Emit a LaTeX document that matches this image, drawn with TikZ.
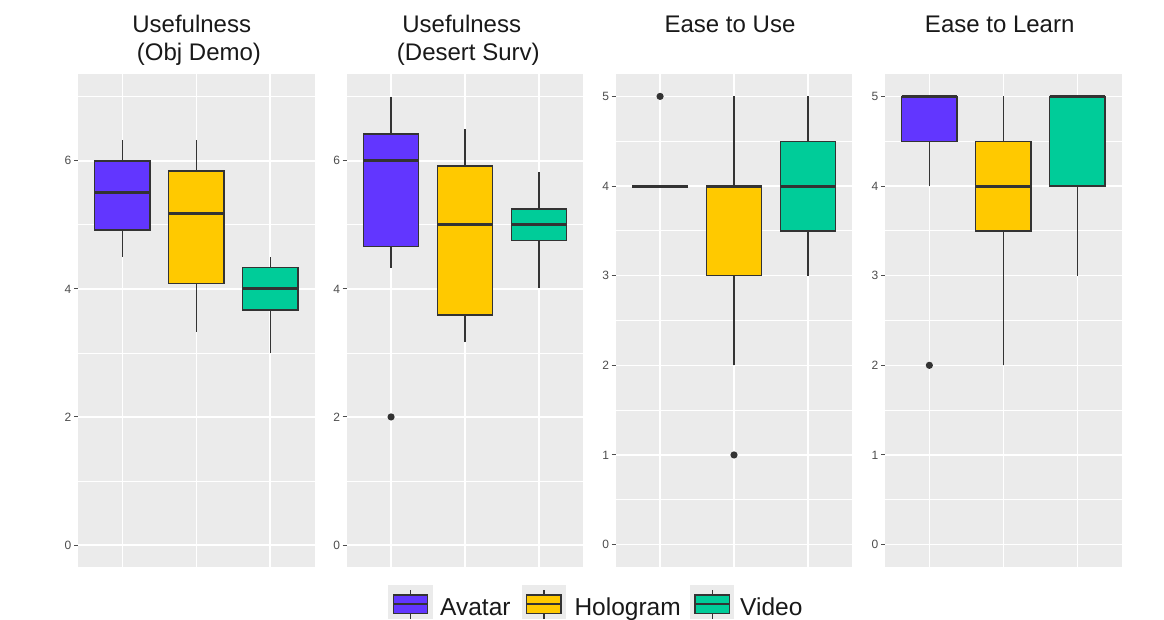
\documentclass[tikz,border=0pt]{standalone}
\usepackage{fontspec}
\setmainfont{Liberation Sans}
\definecolor{avat}{RGB}{98,54,255}
\definecolor{holo}{RGB}{255,201,0}
\definecolor{vid}{RGB}{0,204,153}
\definecolor{pbg}{RGB}{235,235,235}
\definecolor{dk}{RGB}{51,51,51}
\definecolor{axg}{RGB}{77,77,77}
\tikzset{
 panelbg/.style={fill=pbg},
 majgrid/.style={draw=white, line width=1.5pt},
 mingrid/.style={draw=white, line width=0.75pt},
 tickst/.style={draw=axg, line width=1pt},
 ticklab/.style={anchor=east, inner sep=0pt, text=axg, font=\fontsize{12}{12}\selectfont},
 whisk/.style={draw=dk, line width=1.4pt},
 boxst/.style={draw=dk, line width=1.4pt},
 medst/.style={draw=dk, line width=3pt},
 outl/.style={fill=dk},
 ttl/.style={anchor=base, inner sep=0pt, font=\fontsize{24}{28}\selectfont, text=black!90},
 legtxt/.style={anchor=base west, inner sep=0pt, font=\fontsize{24.5}{28}\selectfont, text=black!90},
}
% box plot: #1 x, #2 low whisker, #3 Q1, #4 median, #5 Q3, #6 high whisker, #7 colour
\newcommand\bxp[7]{%
 \draw[whisk] (#1,#2) -- (#1,#3);
 \draw[whisk] (#1,#5) -- (#1,#6);
 \filldraw[boxst, fill=#7] (#1-27.7,#3) rectangle (#1+27.7,#5);
 \draw[medst] (#1-27.7,#4) -- (#1+27.7,#4);
}
% panel: #1 bottom, #2 top, #3 minor, #4 major, #5 id
\newcommand\panelbase[5]{%
 \fill[panelbg] (0,#1) rectangle (236.6,#2);
 \foreach \v in {#3} \draw[mingrid] (0,\v) -- (236.6,\v);
 \foreach \v in {#4} {\draw[majgrid] (0,\v) -- (236.6,\v);
   \draw[tickst] (-4,\v) -- (0,\v);
   \node[ticklab] (#5t\v) at (-6.5,\v) {\v};}
 \foreach \c in {44.36,118.3,192.24} \draw[majgrid] (\c,#1) -- (\c,#2);
}
\newcommand\legkey[2]{%
 \fill[pbg] (#1,0) rectangle (#1+44.4,34);
 \draw[whisk] (#1+22.2,0) -- (#1+22.2,29);
 \filldraw[boxst, fill=#2] (#1+5,5.7) rectangle (#1+39.4,24);
 \draw[medst, line width=1.8pt] (#1+5,14.8) -- (#1+39.4,14.8);
}
\begin{document}
\begin{tikzpicture}[x=1pt,y=1pt]
\useasboundingbox (0,0) rectangle (1164,619);
\fill[white] (0,0) rectangle (1164,619);

% Panel 1
\begin{scope}[shift={(78pt,74pt)}, y=64.03pt]
 \panelbase{-0.35}{7.35}{1,3,5,7}{0,2,4,6}{pa}
 \bxp{44.36}{4.5}{4.92}{5.5}{6.0}{6.33}{avat}
 \bxp{118.3}{3.33}{4.08}{5.17}{5.84}{6.33}{holo}
 \bxp{192.24}{3.0}{3.67}{4.0}{4.33}{4.5}{vid}
\end{scope}

% Panel 2
\begin{scope}[shift={(346.7pt,74pt)}, y=64.03pt]
 \panelbase{-0.35}{7.35}{1,3,5,7}{0,2,4,6}{pb}
 \bxp{44.36}{4.33}{4.66}{6.0}{6.42}{7.0}{avat}
 \fill[outl] (44.36,2) circle (3.6pt);
 \bxp{118.3}{3.17}{3.59}{5.0}{5.92}{6.5}{holo}
 \bxp{192.24}{4.02}{4.76}{5.0}{5.25}{5.83}{vid}
\end{scope}

% Panel 3
\begin{scope}[shift={(615.7pt,74.4pt)}, y=89.64pt]
 \panelbase{-0.25}{5.25}{0.5,1.5,2.5,3.5,4.5}{0,1,2,3,4,5}{pc}
 \bxp{44.36}{4}{4}{4}{4}{4}{avat}
 \fill[outl] (44.36,5) circle (3.6pt);
 \bxp{118.3}{2}{3}{4}{4}{5}{holo}
 \fill[outl] (118.3,1) circle (3.6pt);
 \bxp{192.24}{3}{3.5}{4}{4.5}{5}{vid}
\end{scope}

% Panel 4
\begin{scope}[shift={(885pt,74.4pt)}, y=89.64pt]
 \panelbase{-0.25}{5.25}{0.5,1.5,2.5,3.5,4.5}{0,1,2,3,4,5}{pd}
 \bxp{44.36}{4}{4.5}{5}{5}{5}{avat}
 \fill[outl] (44.36,2) circle (3.6pt);
 \bxp{118.3}{2}{3.5}{4}{4.5}{5}{holo}
 \bxp{192.24}{3}{4}{5}{5}{5}{vid}
\end{scope}

% Titles
\node[ttl] (t1a) at (191.7,586) {Usefulness};
\node[ttl] (t1b) at (199,558) {(Obj Demo)};
\node[ttl] (t2a) at (461.7,586) {Usefulness};
\node[ttl] (t2b) at (468.3,558) {(Desert Surv)};
\node[ttl] (t3) at (730,586) {Ease to Use};
\node[ttl] (t4) at (999.7,586) {Ease to Learn};

% Legend
\legkey{388.3}{avat}
\node[legtxt] (la) at (440,4) {Avatar};
\legkey{521.7}{holo}
\node[legtxt] (lh) at (574.3,4) {Hologram};
\legkey{690}{vid}
\node[legtxt] (lv) at (740,4) {Video};
\end{tikzpicture}
\end{document}
